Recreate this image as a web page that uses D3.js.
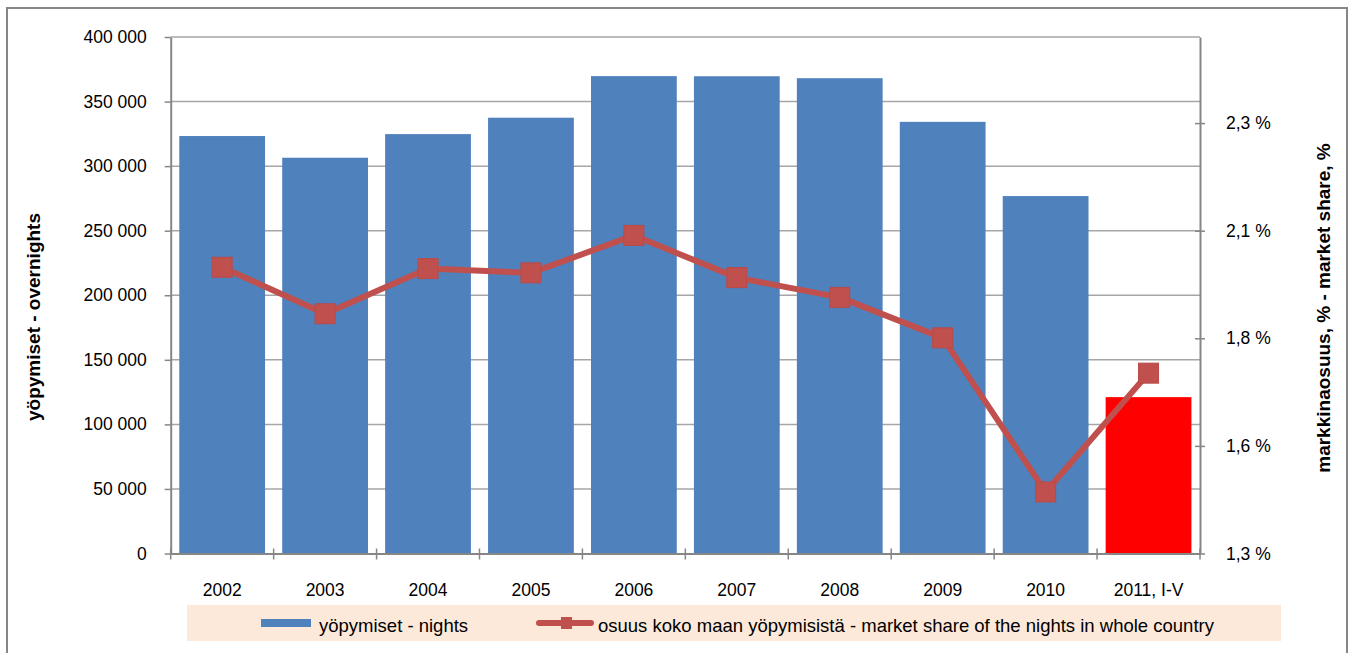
<!DOCTYPE html>
<html>
<head>
<meta charset="utf-8">
<script src="https://cdn.jsdelivr.net/npm/d3@7"></script>
<style>
  body { margin: 0; background: #fff; }
  text { font-family: "Liberation Sans", Arial, sans-serif; fill: #000; }
</style>
</head>
<body>
<div id="chart"></div>
<script>
// chart data
const categories = ["2002", "2003", "2004", "2005", "2006", "2007", "2008", "2009", "2010", "2011, I-V"];
const nights = [323300, 306500, 324800, 337500, 369700, 369600, 368100, 334300, 276800, 121100];
const marketShare = [1.965, 1.857, 1.962, 1.952, 2.039, 1.941, 1.895, 1.801, 1.443, 1.719];
const leftTicks = [0, 50000, 100000, 150000, 200000, 250000, 300000, 350000, 400000];
const rightTicks = [1.3, 1.55, 1.8, 2.05, 2.3];
const rightTickLabels = ["1,3 %", "1,6 %", "1,8 %", "2,1 %", "2,3 %"];
const barLegend = "yöpymiset - nights";
const lineLegend = "osuus koko maan yöpymisistä - market share of the nights in whole country";
const leftTitle = "yöpymiset - overnights";
const rightTitle = "markkinaosuus, % - market share, %";

const W = 1349, H = 653;
const plot = { left: 170.7, right: 1200, top: 37, bottom: 553.5 };
const AXIS = "#868686", GRID = "#a6a6a6", BLUE = "#4f81bd", RED = "#c0504d";
const TICK_FONT = "17.5px", LEGEND_FONT = "18.5px", TITLE_FONT = "19px";

const svg = d3.select("#chart").append("svg")
    .attr("width", W)
    .attr("height", H);

// outer chart frame
svg.append("rect")
    .attr("x", 7).attr("y", 8)
    .attr("width", 1340).attr("height", 660)
    .attr("fill", "#fff")
    .attr("stroke", AXIS)
    .attr("stroke-width", 2);

const x = d3.scaleBand()
    .domain(categories)
    .range([plot.left, plot.right])
    .paddingInner(0.2 / 1.2)
    .paddingOuter(0.1 / 1.2);

const y = d3.scaleLinear().domain([0, 400000]).range([plot.bottom, plot.top]);
const y2 = d3.scaleLinear().domain([1.3, 2.5]).range([plot.bottom, plot.top]);

const fmt = d3.formatLocale({ decimal: ",", thousands: " ", grouping: [3], currency: ["", ""] }).format(",d");

// gridlines
svg.append("g").selectAll("line")
    .data(leftTicks.slice(1))
    .join("line")
    .attr("x1", plot.left).attr("x2", plot.right)
    .attr("y1", d => y(d)).attr("y2", d => y(d))
    .attr("stroke", GRID)
    .attr("stroke-width", 1.5);

// bars
svg.append("g").selectAll("rect")
    .data(nights)
    .join("rect")
    .attr("x", (d, i) => x(categories[i]))
    .attr("width", x.bandwidth())
    .attr("y", d => y(d))
    .attr("height", d => plot.bottom - y(d))
    .attr("fill", (d, i) => i === categories.length - 1 ? "#ff0000" : BLUE);

// left axis
const leftAxis = svg.append("g")
    .attr("transform", `translate(${plot.left},0)`)
    .call(d3.axisLeft(y).tickValues(leftTicks).tickFormat(fmt).tickSize(6).tickSizeOuter(0).tickPadding(18));

// right axis
const rightAxis = svg.append("g")
    .attr("transform", `translate(${plot.right},0)`)
    .call(d3.axisRight(y2).tickValues(rightTicks)
        .tickFormat((d, i) => rightTickLabels[i])
        .tickSize(5).tickSizeOuter(0).tickPadding(21));
rightAxis.selectAll(".tick line").attr("x1", -5);

// bottom axis
const bottomAxis = svg.append("g")
    .attr("transform", `translate(0,${plot.bottom})`)
    .call(d3.axisBottom(x).tickSize(0).tickSizeOuter(0).tickPadding(30));

// category boundary ticks
svg.append("g").selectAll("line")
    .data(d3.range(categories.length + 1))
    .join("line")
    .attr("x1", i => plot.left + i * x.step())
    .attr("x2", i => plot.left + i * x.step())
    .attr("y1", plot.bottom - 5)
    .attr("y2", plot.bottom + 6)
    .attr("stroke", AXIS)
    .attr("stroke-width", 1.5);

[leftAxis, rightAxis, bottomAxis].forEach(g => {
    g.select(".domain").attr("stroke", AXIS).attr("stroke-width", 2);
    g.selectAll(".tick line").attr("stroke", AXIS).attr("stroke-width", 1.5);
    g.selectAll(".tick text")
        .style("font-family", '"Liberation Sans", Arial, sans-serif')
        .style("font-size", TICK_FONT)
        .attr("fill", "#000");
});

// market share line
const cx = (d, i) => x(categories[i]) + x.bandwidth() / 2;
svg.append("path")
    .datum(marketShare)
    .attr("fill", "none")
    .attr("stroke", RED)
    .attr("stroke-width", 6)
    .attr("stroke-linejoin", "round")
    .attr("d", d3.line().x(cx).y(d => y2(d)));

const MS = 20;
svg.append("g").selectAll("rect")
    .data(marketShare)
    .join("rect")
    .attr("x", (d, i) => cx(d, i) - MS / 2)
    .attr("y", d => y2(d) - MS / 2)
    .attr("width", MS).attr("height", MS)
    .attr("fill", RED)
    .attr("stroke", "#b94a47")
    .attr("stroke-width", 1);

// axis titles
svg.append("text")
    .attr("transform", "translate(33,317) rotate(-90)")
    .attr("text-anchor", "middle")
    .attr("dominant-baseline", "central")
    .style("font-size", TITLE_FONT)
    .style("font-weight", "bold")
    .text(leftTitle);

svg.append("text")
    .attr("transform", "translate(1323,308) rotate(-90)")
    .attr("text-anchor", "middle")
    .attr("dominant-baseline", "central")
    .style("font-size", TITLE_FONT)
    .style("font-weight", "bold")
    .text(rightTitle);

// legend
const legend = svg.append("g");
legend.append("rect")
    .attr("x", 187).attr("y", 605)
    .attr("width", 1094).attr("height", 36)
    .attr("fill", "#fde9d9");
legend.append("rect")
    .attr("x", 261).attr("y", 619)
    .attr("width", 50).attr("height", 8)
    .attr("fill", BLUE);
legend.append("text")
    .attr("x", 319).attr("y", 632)
    .style("font-size", LEGEND_FONT)
    .text(barLegend);
legend.append("line")
    .attr("x1", 539).attr("x2", 591)
    .attr("y1", 623).attr("y2", 623)
    .attr("stroke", RED)
    .attr("stroke-width", 6)
    .attr("stroke-linecap", "round");
legend.append("rect")
    .attr("x", 561).attr("y", 617)
    .attr("width", 11).attr("height", 12)
    .attr("fill", RED);
legend.append("text")
    .attr("x", 598).attr("y", 632)
    .style("font-size", LEGEND_FONT)
    .text(lineLegend);
</script>
</body>
</html>
